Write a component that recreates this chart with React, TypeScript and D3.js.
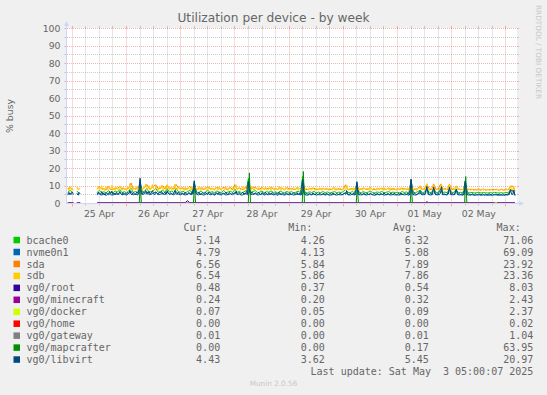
import React from 'react';
import * as d3 from 'd3';

const WIDTH = 547;
const HEIGHT = 395;
const X0 = 67;
const X1 = 517;
const Y0 = 203.5;
const Y1 = 28.5;

// time: hour offsets from 25 Apr 2025 00:00
const BASE = new Date(2025, 3, 25, 0, 0, 0);
const hourToDate = (h: number) => new Date(BASE.getTime() + h * 3600000);
const DOMAIN_HOURS = [-2.35, 196.9];
const FIRST_HOUR = -2; // hourly samples start 24 Apr 22:00
const CHUNK_START = [-2, 24, 48, 72, 96, 120, 144, 168, 192]; // half-hourly chunks (first from 24 Apr 22:00, then per day)

const yTicks = [0, 10, 20, 30, 40, 50, 60, 70, 80, 90, 100];
const dayLabels = ['25 Apr', '26 Apr', '27 Apr', '28 Apr', '29 Apr', '30 Apr', '01 May', '02 May'];

const N = null;

// hourly
const bcache0 = [
  6.4, 7.5,
  6.6, N, 7.0, 6.0, N, N, N, N, N, N, N, 6.3, 7.6, 6.2, 6.7, 6.0, 7.3, 6.4, 6.1, 7.1, 6.5, 8.0, 6.2, 6.8,
  6.1, 7.2, 8.9, 6.3, 6.9, 6.2, 12.0, 6.5, 7.0, 8.7, 6.4, 6.8, 7.5, 8.6, 6.5, 6.7, 7.7, 6.3, 8.5, 6.5, 7.1, 6.2, 8.7, 6.7,
  6.4, 7.1, 6.1, 6.8, 7.5, 6.3, 11.5, 6.6, 6.2, 7.2, 6.0, 6.7, 7.6, 6.3, 6.8, 6.1, 7.2, 6.5, 6.3, 7.5, 6.1, 6.6, 7.0, 6.3,
  8.2, 6.4, 6.9, 6.0, 6.7, 7.3, 14.5, 6.4, 6.8, 7.4, 6.2, 6.5, 7.1, 6.1, 6.8, 6.4, 7.2, 6.3, 6.7, 6.0, 7.1, 6.5, 6.2, 6.9,
  6.3, 6.8, 6.1, 6.5, 7.0, 6.2, 15.5, 6.4, 6.0, 6.7, 6.3, 6.9, 6.1, 6.5, 6.2, 6.8, 6.2, 6.6, 6.0, 6.4, 6.8, 6.2, 6.5, 6.3,
  6.7, 8.1, 6.4, 6.2, 6.8, 6.1, 11.0, 6.4, 6.3, 6.8, 6.1, 6.5, 7.0, 6.3, 6.0, 6.6, 6.3, 6.9, 6.1, 6.4, 6.8, 6.2, 6.5, 6.3,
  6.4, 6.1, 6.8, 6.3, 6.6, 6.0, 12.5, 6.4, 6.2, 6.8, 7.6, 6.3, 6.5, 8.8, 6.4, 6.2, 8.5, 6.4, 6.3, 8.7, 6.4, 6.5, 6.2, 8.4,
  6.3, 6.4, 7.9, 6.2, 6.4, 6.0, 13.0, 6.3, 6.1, 6.4, 6.0, 6.2, 6.4, 6.0, 6.3, 6.1, 6.0, 6.2, 6.0, 6.4, 6.1, 6.0, 6.2, 6.0,
  6.3, 6.1, 7.8, 7.5, 5.2,
];

// hourly
const nvme0n1 = [
  5.0, 5.9,
  5.2, N, 5.6, 4.7, N, N, N, N, N, N, N, 4.9, 6.0, 4.8, 5.3, 4.6, 5.8, 5.0, 4.8, 5.6, 5.1, 6.3, 4.9, 5.3,
  4.8, 5.7, 7.0, 4.9, 5.4, 4.8, 13.5, 5.1, 5.5, 6.8, 5.0, 5.3, 5.9, 6.7, 5.1, 5.2, 6.0, 4.9, 6.6, 5.1, 5.6, 4.8, 6.8, 5.2,
  5.0, 5.6, 4.8, 5.3, 5.9, 4.9, 12.5, 5.2, 4.9, 5.6, 4.7, 5.2, 6.0, 4.9, 5.3, 4.8, 5.7, 5.1, 4.9, 5.9, 4.8, 5.2, 5.5, 4.9,
  6.4, 5.0, 5.4, 4.7, 5.2, 5.7, 13.0, 5.0, 5.3, 5.8, 4.8, 5.1, 5.6, 4.8, 5.3, 5.0, 5.6, 4.9, 5.2, 4.7, 5.6, 5.1, 4.8, 5.4,
  4.9, 5.3, 4.8, 5.1, 5.5, 4.8, 14.0, 5.0, 4.7, 5.2, 4.9, 5.4, 4.8, 5.1, 4.9, 5.3, 4.8, 5.2, 4.7, 5.0, 5.3, 4.8, 5.1, 4.9,
  5.2, 6.3, 5.0, 4.8, 5.3, 4.8, 12.0, 5.0, 4.9, 5.3, 4.8, 5.1, 5.5, 4.9, 4.7, 5.2, 4.9, 5.4, 4.8, 5.0, 5.3, 4.8, 5.1, 4.9,
  5.0, 4.8, 5.3, 4.9, 5.2, 4.7, 13.5, 5.0, 4.8, 5.3, 7.5, 4.9, 5.1, 9.2, 5.0, 4.8, 8.8, 5.0, 4.9, 9.0, 5.0, 5.1, 4.8, 8.7,
  4.9, 5.0, 7.8, 4.8, 5.0, 4.7, 13.0, 4.9, 4.8, 5.0, 4.7, 4.8, 5.0, 4.7, 4.9, 4.8, 4.7, 4.8, 4.7, 5.0, 4.8, 4.7, 4.8, 4.7,
  4.9, 4.8, 7.5, 7.2, 4.8,
];

// hourly
const sda = [
  8.4, 9.3,
  8.2, N, 9.1, 7.8, N, N, N, N, N, N, N, 8.3, 9.5, 8.2, 8.4, 7.9, 9.7, 8.0, 8.1, 8.9, 8.5, 9.9, 8.2, 8.5,
  8.0, 9.0, 11.7, 8.3, 8.7, 8.1, 9.8, 8.2, 9.3, 10.9, 8.4, 8.6, 9.9, 10.7, 8.5, 8.5, 10.2, 8.3, 10.6, 8.6, 9.0, 8.2, 10.8, 8.8,
  8.5, 8.9, 8.1, 8.6, 9.9, 8.0, 9.7, 8.3, 8.2, 9.0, 8.0, 8.4, 9.5, 8.3, 8.5, 8.1, 9.1, 8.6, 8.0, 9.4, 8.1, 8.3, 9.2, 7.9,
  10.8, 8.1, 9.1, 8.0, 8.4, 9.6, 9.3, 8.0, 8.9, 9.3, 8.2, 8.2, 9.3, 8.1, 8.6, 8.5, 9.1, 8.3, 8.4, 8.0, 9.0, 8.6, 7.8, 9.1,
  8.4, 8.5, 8.1, 8.2, 9.2, 7.9, 9.1, 8.1, 8.0, 8.4, 8.4, 8.7, 8.1, 8.2, 8.3, 8.5, 8.2, 8.3, 8.0, 8.1, 9.0, 7.8, 8.6, 7.9,
  8.4, 10.7, 8.0, 8.2, 8.5, 8.1, 9.7, 8.1, 8.3, 8.6, 8.1, 8.2, 9.2, 8.0, 8.0, 8.3, 8.3, 8.7, 8.1, 8.1, 8.9, 7.8, 8.6, 7.9,
  8.5, 8.1, 8.6, 8.3, 8.3, 8.0, 9.9, 8.0, 8.2, 8.5, 10.1, 7.9, 8.6, 11.0, 8.4, 7.8, 11.2, 8.1, 8.3, 10.9, 8.0, 8.6, 7.8, 11.1,
  7.9, 8.5, 9.8, 8.2, 8.0, 8.0, 9.7, 7.9, 8.1, 8.1, 7.9, 7.8, 8.4, 7.6, 8.3, 7.7, 7.9, 7.8, 8.0, 8.0, 8.1, 7.5, 8.2, 7.6,
  8.3, 7.7, 9.8, 10.0, 7.0,
];

// half-hourly, one chunk per day
const sdb = [
  [8.6, 7.4, 9.8, 7.9, 8.8, 7.6, N, N, 9.4, 7.8, 8.3, 9.1, N, N, N, N, N, N, N, N, N, N, N, N, N, N,
    8.1, 9.9, 7.6, 8.8, 10.2, 7.9, 8.4, 7.3, 9.6, 8.0, 7.5, 9.2, 8.3, 10.4, 7.7, 8.9, 7.4, 9.5, 8.2, 7.8, 10.1, 8.5, 7.6, 9.3, 8.0, 8.7],
  [7.5, 9.4, 8.2, 11.3, 8.0, 7.6, 9.1, 8.4, 7.7, 9.8, 8.5, 7.9, 9.9, 8.1, 7.5, 9.3, 8.8, 11.0, 7.9, 8.6, 10.2, 7.8, 9.0, 10.9,
    8.2, 7.6, 9.7, 8.4, 7.5, 9.5, 8.9, 10.3, 7.8, 8.3, 9.6, 7.7, 10.8, 8.5, 7.9, 9.2, 8.1, 7.6, 9.4, 11.1, 8.0, 7.7, 9.8, 8.3],
  [7.8, 9.1, 8.3, 7.5, 9.6, 8.0, 7.7, 9.3, 8.6, 7.6, 9.9, 8.2, 7.4, 9.0, 8.5, 7.8, 9.7, 8.1, 7.5, 9.2, 8.7, 7.9, 9.5, 8.0,
    7.6, 9.8, 8.4, 7.7, 9.1, 8.2, 7.5, 9.4, 8.8, 7.8, 9.6, 8.1, 7.6, 9.0, 8.3, 7.9, 9.7, 8.0, 7.5, 9.3, 8.6, 7.7, 9.1, 8.2],
  [8.4, 10.6, 7.9, 8.8, 9.3, 7.6, 8.5, 9.7, 7.8, 9.1, 8.2, 7.5, 9.4, 8.6, 7.7, 9.8, 8.3, 7.6, 9.0, 8.5, 7.9, 9.5, 8.1, 7.4,
    9.3, 8.7, 7.8, 9.6, 8.0, 7.5, 9.2, 8.4, 7.7, 9.4, 8.2, 7.6, 9.1, 8.5, 7.8, 9.7, 8.0, 7.5, 9.0, 8.3, 7.6, 9.3, 8.6, 7.7],
  [8.1, 9.0, 7.6, 8.5, 9.2, 7.8, 8.3, 9.4, 7.5, 8.7, 8.0, 7.4, 9.1, 8.2, 7.6, 8.9, 8.4, 7.5, 9.0, 8.1, 7.7, 9.2, 8.3, 7.4,
    8.8, 8.0, 7.6, 9.1, 8.2, 7.5, 8.9, 8.4, 7.7, 9.0, 8.1, 7.5, 8.7, 8.3, 7.6, 9.2, 8.0, 7.4, 8.8, 8.2, 7.7, 9.0, 8.1, 7.5],
  [8.3, 9.0, 7.8, 10.5, 8.1, 7.6, 8.9, 8.2, 7.5, 9.1, 8.0, 7.7, 9.3, 8.4, 7.6, 8.8, 8.1, 7.5, 9.2, 8.3, 7.7, 8.9, 8.0, 7.4,
    9.1, 8.2, 7.6, 8.8, 8.3, 7.5, 9.0, 8.1, 7.7, 8.9, 8.2, 7.5, 9.2, 8.0, 7.6, 8.8, 8.3, 7.4, 9.0, 8.1, 7.7, 8.9, 8.2, 7.5],
  [8.2, 8.9, 7.6, 9.1, 8.0, 7.5, 8.8, 8.3, 7.7, 9.0, 8.1, 7.4, 9.7, 8.2, 7.6, 8.9, 8.0, 7.5, 8.7, 8.3, 9.9, 7.8, 8.1, 8.6,
    7.6, 9.2, 11.4, 8.0, 7.5, 8.6, 8.2, 7.7, 10.8, 8.1, 7.6, 8.4, 8.3, 7.5, 8.9, 11.3, 7.9, 8.2, 8.0, 7.6, 8.5, 8.1, 10.9, 7.8],
  [8.0, 8.6, 7.6, 8.2, 10.2, 7.9, 8.1, 8.5, 7.6, 8.3, 7.8, 7.5, 9.4, 8.0, 7.6, 8.4, 7.9, 7.5, 8.2, 7.7, 7.4, 8.3, 7.8, 7.6,
    8.1, 7.5, 7.8, 8.2, 7.4, 7.9, 8.0, 7.6, 8.3, 7.7, 7.5, 8.1, 7.8, 7.4, 8.2, 7.6, 7.9, 8.0, 7.5, 7.7, 8.3, 7.6, 7.8, 7.5],
  [8.1, 7.6, 8.3, 7.9, 10.1, 7.7, 8.0, 9.8, 6.9],
];

// half-hourly, one chunk per day
const vg0Libvirt = [
  [5.3, 6.4, 5.0, 5.9, 6.6, 5.2, N, N, 5.8, 4.9, 6.3, 5.4, N, N, N, N, N, N, N, N, N, N, N, N, N, N,
    5.1, 6.5, 5.4, 4.9, 6.8, 5.3, 5.9, 4.8, 6.2, 5.5, 5.0, 6.7, 5.6, 7.1, 5.2, 6.0, 4.9, 6.4, 5.5, 5.1, 6.9, 5.7, 5.0, 6.3, 5.4, 5.9],
  [5.2, 6.3, 5.6, 7.6, 5.3, 5.0, 6.2, 5.7, 5.1, 6.6, 5.8, 5.4, 14.5, 6.1, 5.2, 6.4, 5.9, 7.4, 5.3, 5.8, 6.9, 5.2, 6.1, 7.3,
    5.5, 5.0, 6.5, 5.7, 5.1, 6.4, 6.0, 7.0, 5.3, 5.6, 6.5, 5.2, 7.3, 5.8, 5.3, 6.2, 5.5, 5.1, 6.3, 7.5, 5.4, 5.2, 6.6, 5.6],
  [5.3, 6.1, 5.6, 5.0, 6.5, 5.4, 5.1, 6.3, 5.8, 5.0, 6.7, 5.5, 13.0, 6.0, 5.7, 5.2, 6.6, 5.4, 5.0, 6.2, 5.9, 5.3, 6.4, 5.4,
    5.1, 6.6, 5.7, 5.2, 6.1, 5.5, 5.0, 6.3, 5.9, 5.3, 6.5, 5.4, 5.1, 6.0, 5.6, 5.3, 6.5, 5.4, 5.0, 6.3, 5.8, 5.2, 6.1, 5.5],
  [5.6, 7.0, 5.3, 5.9, 6.3, 5.1, 5.7, 6.5, 5.2, 6.1, 5.5, 5.0, 12.5, 6.2, 5.4, 6.6, 5.6, 5.1, 6.1, 5.7, 5.3, 6.4, 5.5, 5.0,
    6.3, 5.8, 5.2, 6.5, 5.4, 5.0, 6.2, 5.6, 5.2, 6.3, 5.5, 5.1, 6.1, 5.7, 5.3, 6.5, 5.4, 5.0, 6.0, 5.6, 5.1, 6.2, 5.8, 5.2],
  [5.4, 6.1, 5.1, 5.7, 6.2, 5.2, 5.5, 6.3, 5.0, 5.8, 5.3, 5.0, 13.5, 5.9, 5.1, 5.8, 5.5, 5.0, 6.0, 5.4, 5.1, 6.1, 5.5, 4.9,
    5.9, 5.3, 5.0, 6.0, 5.4, 5.0, 5.8, 5.5, 5.1, 6.0, 5.3, 5.0, 5.7, 5.5, 5.1, 6.1, 5.3, 4.9, 5.8, 5.4, 5.1, 5.9, 5.4, 5.0],
  [5.5, 6.0, 5.2, 7.2, 5.4, 5.0, 5.9, 5.4, 5.0, 6.0, 5.3, 5.1, 12.5, 5.6, 5.0, 5.8, 5.4, 5.0, 6.1, 5.5, 5.1, 5.9, 5.3, 4.9,
    6.0, 5.4, 5.0, 5.8, 5.5, 5.0, 5.9, 5.3, 5.1, 5.9, 5.4, 5.0, 6.1, 5.3, 5.0, 5.8, 5.5, 4.9, 6.0, 5.3, 5.1, 5.9, 5.4, 5.0],
  [5.3, 5.9, 5.0, 6.0, 5.4, 5.0, 5.8, 5.5, 5.1, 6.0, 5.3, 4.9, 14.0, 5.6, 5.0, 5.9, 5.4, 5.0, 5.7, 5.5, 6.5, 5.1, 5.4, 5.8,
    5.0, 6.2, 9.8, 5.4, 5.0, 5.7, 5.5, 5.1, 9.4, 5.5, 5.0, 5.6, 5.4, 5.0, 5.9, 9.6, 5.2, 5.5, 5.3, 5.0, 5.7, 5.4, 9.3, 5.1],
  [5.3, 5.7, 5.0, 5.5, 8.3, 5.2, 5.4, 5.7, 5.0, 5.5, 5.2, 4.9, 12.5, 5.5, 5.1, 5.6, 5.2, 4.9, 5.6, 5.3, 5.0, 5.5, 5.2, 4.9,
    5.6, 5.1, 5.0, 5.5, 5.2, 4.9, 5.4, 5.1, 5.0, 5.6, 5.2, 4.9, 5.5, 5.1, 5.0, 5.4, 5.2, 4.9, 5.5, 5.1, 5.0, 5.4, 5.2, 4.9],
  [5.3, 5.0, 5.6, 5.2, 8.0, 5.3, 5.1, 7.7, 4.5],
];

// sparse readings [hour, value] for the near-flat series
type Pt = [number, number | null];
const vg0Root: Pt[] = [[-2, 0.5], [0.5, 0.5], [1, N], [2, 0.5], [3.5, 0.5], [4, N], [11, 0.5], [50, 0.5], [51, 1.6], [52, 0.5], [196, 0.48]];
const vg0Minecraft: Pt[] = [[-2, 0.3], [0.5, 0.3], [1, N], [2, 0.3], [3.5, 0.3], [4, N], [11, 0.3], [156.5, 0.3], [157, 1.2], [157.5, 0.3], [196, 0.24]];
const vg0Docker: Pt[] = [[-2, 0.1], [0.5, 0.1], [1, N], [2, 0.1], [3.5, 0.1], [4, N], [11, 0.1], [187, 0.1], [187.5, 1.0], [188, 0.1], [196, 0.07]];
const vg0Home: Pt[] = [[-2, 0], [0.5, 0], [1, N], [2, 0], [3.5, 0], [4, N], [11, 0], [196, 0]];
const vg0Gateway: Pt[] = [[-2, 0.01], [0.5, 0.01], [1, N], [2, 0.01], [3.5, 0.01], [4, N], [11, 0.01], [196, 0.01]];
const vg0Mapcrafter: Pt[] = [
  [-2, 0], [0.5, 0], [1, N], [2, 0], [3.5, 0], [4, N], [11, 0],
  [29.6, 0], [30.1, 10], [30.6, 0],
  [53.6, 0], [54.1, 10.5], [54.6, 0],
  [77.9, 0], [78.4, 17.5], [78.9, 0],
  [101.8, 0], [102.3, 18.3], [102.8, 0],
  [125.7, 0], [126.2, 9.5], [126.7, 0],
  [149.6, 0], [150.1, 11], [150.6, 0],
  [173.7, 0], [174.2, 15.4], [174.7, 0],
  [196, 0],
];

const names = ['bcache0', 'nvme0n1', 'sda', 'sdb', 'vg0/root', 'vg0/minecraft', 'vg0/docker', 'vg0/home', 'vg0/gateway', 'vg0/mapcrafter', 'vg0/libvirt'];
const colors = ['#00CC00', '#0066B3', '#FF8000', '#FFCC00', '#330099', '#990099', '#CCFF00', '#FF0000', '#808080', '#008F00', '#00487D'];
const curVals = ['5.14', '4.79', '6.56', '6.54', '0.48', '0.24', '0.07', '0.00', '0.01', '0.00', '4.43'];
const minVals = ['4.26', '4.13', '5.84', '5.86', '0.37', '0.20', '0.05', '0.00', '0.00', '0.00', '3.62'];
const avgVals = ['6.32', '5.08', '7.89', '7.86', '0.54', '0.32', '0.09', '0.00', '0.01', '0.17', '5.45'];
const maxVals = ['71.06', '69.09', '23.92', '23.36', '8.03', '2.43', '2.37', '0.02', '1.04', '63.95', '20.97'];

const hourly = (arr: (number | null)[]): Pt[] => arr.map((v, i) => [FIRST_HOUR + i, v]);
const halfHourly = (chunks: (number | null)[][]): Pt[] =>
  chunks.flatMap((c, k) => c.map((v, i) => [CHUNK_START[k] + i * 0.5, v] as Pt));

const seriesData: Pt[][] = [
  hourly(bcache0), hourly(nvme0n1), hourly(sda), halfHourly(sdb),
  vg0Root, vg0Minecraft, vg0Docker, vg0Home, vg0Gateway, vg0Mapcrafter, halfHourly(vg0Libvirt),
];

const SANS = '"DejaVu Sans", sans-serif';
const MONO = '"DejaVu Sans Mono", monospace';
const FONT_COLOR = '#666666';
const AXIS_COLOR = '#CFD6F8';
const GRID = 'rgba(143,143,143,0.45)';
const MGRID = 'rgba(222,79,79,0.42)';

const snap = (v: number) => Math.floor(v) + 0.5;

export default function App() {
  const x = d3.scaleTime().domain([hourToDate(DOMAIN_HOURS[0]), hourToDate(DOMAIN_HOURS[1])]).range([X0, X1]);
  const y = d3.scaleLinear().domain([0, 100]).range([Y0, Y1]);

  const line = d3.line<Pt>()
    .defined((d) => d[1] !== null)
    .x((d) => x(hourToDate(d[0])))
    .y((d) => y(d[1] as number));

  const [d0, d1] = x.domain();
  const sixHours = d3.timeHour.every(6)!.range(d0, d1);
  const minorX = sixHours.filter((d) => d.getHours() !== 0);
  const majorX = d3.timeDay.range(d0, d1);

  const minorY = d3.range(5, 100, 10);
  const majorY = yTicks.filter((v) => v > 0);

  const legendTop = 243.6;
  const rowH = 11.95;

  return (
    <svg width={WIDTH} height={HEIGHT} style={{ position: 'fixed', left: 0, top: 0 }} xmlns="http://www.w3.org/2000/svg">
      <rect x={0} y={0} width={WIDTH} height={HEIGHT} fill="#F0F0F0" />
      <rect x={X0} y={Y1 - 0.5} width={X1 - X0} height={Y0 - Y1 + 0.5} fill="#FFFFFF" />

      {/* minor grid */}
      {minorY.map((v) => {
        const yy = snap(y(v));
        return (
          <g key={'my' + v}>
            <line x1={X0} x2={X1} y1={yy} y2={yy} stroke={GRID} strokeDasharray="1,1" />
            <line x1={X0 - 2.5} x2={X0} y1={yy} y2={yy} stroke={GRID} />
            <line x1={X1} x2={X1 + 2} y1={yy} y2={yy} stroke={GRID} />
          </g>
        );
      })}
      {minorX.map((d, i) => {
        const xx = snap(x(d));
        return (
          <g key={'mx' + i}>
            <line x1={xx} x2={xx} y1={Y1} y2={Y0} stroke={GRID} strokeDasharray="1,1" />
            <line x1={xx} x2={xx} y1={Y1 - 2.5} y2={Y1} stroke={GRID} />
            <line x1={xx} x2={xx} y1={Y0} y2={Y0 + 2} stroke={GRID} />
          </g>
        );
      })}
      {/* major grid */}
      {majorY.map((v) => {
        const yy = snap(y(v));
        return (
          <g key={'My' + v}>
            <line x1={X0} x2={X1} y1={yy} y2={yy} stroke={MGRID} strokeDasharray="1,1" />
            <line x1={X0 - 2.5} x2={X0} y1={yy} y2={yy} stroke={MGRID} />
            <line x1={X1} x2={X1 + 2} y1={yy} y2={yy} stroke={MGRID} />
          </g>
        );
      })}
      {majorX.map((d, i) => {
        const xx = snap(x(d));
        return (
          <g key={'Mx' + i}>
            <line x1={xx} x2={xx} y1={Y1} y2={Y0} stroke={MGRID} strokeDasharray="1,1" />
            <line x1={xx} x2={xx} y1={Y1 - 2.5} y2={Y1} stroke={MGRID} />
            <line x1={xx} x2={xx} y1={Y0} y2={Y0 + 3} stroke={MGRID} />
          </g>
        );
      })}

      {/* series */}
      {seriesData.map((data, i) => (
        <path key={names[i]} d={line(data) || ''} fill="none" stroke={colors[i]} strokeWidth={1} />
      ))}

      {/* axes */}
      <line x1={X0 - 0.5} x2={X0 - 0.5} y1={Y0 + 0.5} y2={24} stroke={AXIS_COLOR} />
      <path d={`M${X0 - 3},26 L${X0 - 0.5},21 L${X0 + 2},26 Z`} fill={AXIS_COLOR} />
      <line x1={X0 - 1} x2={X1 + 3} y1={Y0} y2={Y0} stroke={AXIS_COLOR} />
      <path d={`M${X1 + 2},${Y0 - 2.5} L${X1 + 7},${Y0} L${X1 + 2},${Y0 + 2.5} Z`} fill={AXIS_COLOR} />

      {/* y labels */}
      {yTicks.map((v) => (
        <text key={'yl' + v} x={60.5} y={y(v) + 3.3} textAnchor="end" fontFamily={SANS} fontSize={9.33} fill={FONT_COLOR}>
          {v}
        </text>
      ))}
      {/* x labels */}
      {dayLabels.map((lab, i) => (
        <text key={lab} x={x(hourToDate(24 * i + 12))} y={216.8} textAnchor="middle" fontFamily={SANS} fontSize={9.33} fill={FONT_COLOR}>
          {lab}
        </text>
      ))}

      {/* title */}
      <text x={273.5} y={22} textAnchor="middle" fontFamily={SANS} fontSize={12.2} fill={FONT_COLOR}>
        Utilization per device - by week
      </text>
      <text transform="translate(13.3,116) rotate(-90)" textAnchor="middle" fontFamily={SANS} fontSize={9.33} fill={FONT_COLOR}>
        % busy
      </text>
      <text transform="translate(535.5,5) rotate(90)" textAnchor="start" fontFamily={SANS} fontSize={7.3} fill="#C8C8C8">
        RRDTOOL / TOBI OETIKER
      </text>

      {/* legend */}
      <g fontFamily={MONO} fontSize={10} fill={FONT_COLOR}>
        <text x={207.7} y={legendTop - 12.4} textAnchor="end">Cur:</text>
        <text x={312.4} y={legendTop - 12.4} textAnchor="end">Min:</text>
        <text x={417} y={legendTop - 12.4} textAnchor="end">Avg:</text>
        <text x={520.7} y={legendTop - 12.4} textAnchor="end">Max:</text>
        {names.map((n, i) => {
          const by = legendTop + rowH * i;
          return (
            <g key={'lg' + n}>
              <rect x={13.5} y={by - 6.8} width={6.5} height={6.5} fill={colors[i]} />
              <text x={26.5} y={by}>{n}</text>
              <text x={220.2} y={by} textAnchor="end">{curVals[i]}</text>
              <text x={324.9} y={by} textAnchor="end">{minVals[i]}</text>
              <text x={428.9} y={by} textAnchor="end">{avgVals[i]}</text>
              <text x={533.3} y={by} textAnchor="end">{maxVals[i]}</text>
            </g>
          );
        })}
        <text x={533.3} y={legendTop + rowH * 11} textAnchor="end" style={{ whiteSpace: 'pre' }}>
          {'Last update: Sat May  3 05:00:07 2025'}
        </text>
      </g>
      <text x={273.5} y={386} textAnchor="middle" fontFamily={SANS} fontSize={7.3} fill="#C8C8C8">
        Munin 2.0.56
      </text>
    </svg>
  );
}
